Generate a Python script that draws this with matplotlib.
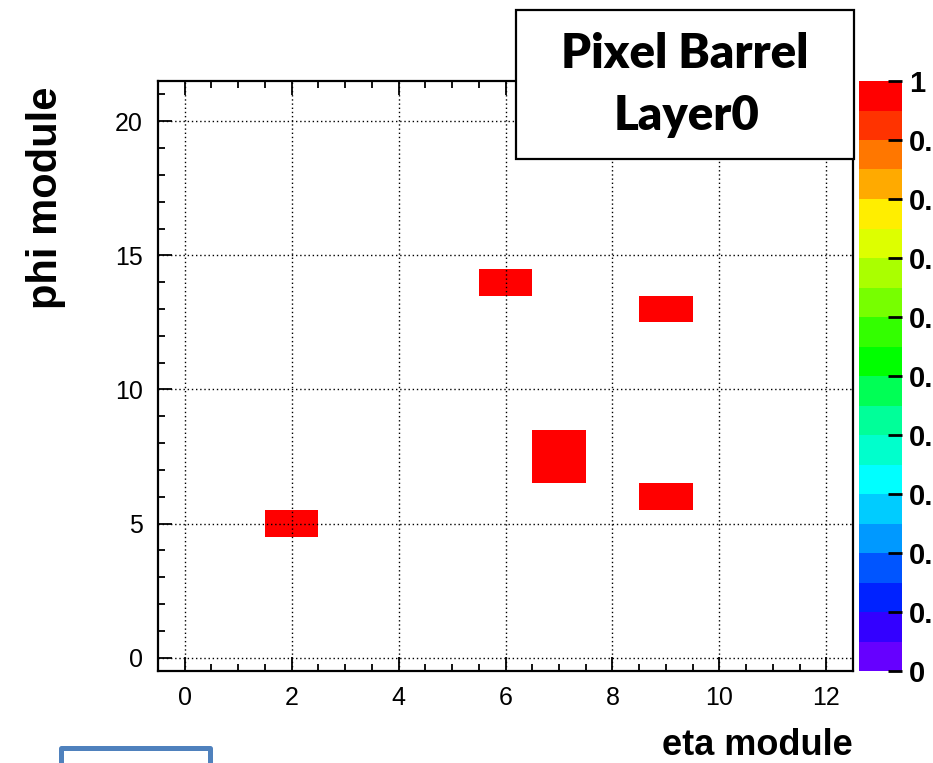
import numpy as np
import matplotlib
matplotlib.use("Agg")
import matplotlib.pyplot as plt
from matplotlib.colors import ListedColormap, Normalize
from matplotlib.patches import Rectangle
from matplotlib.ticker import MultipleLocator, FixedLocator

# ---------------- data ----------------
eta_bins = list(range(13))          # eta module bins 0..12
phi_bins = list(range(22))          # phi module bins 0..21
hit_eta = [2, 6, 9, 9, 7, 7]
hit_phi = [5, 14, 13, 6, 7, 8]
hit_val = [1, 1, 1, 1, 1, 1]

x_ticks = [0, 2, 4, 6, 8, 10, 12]
y_ticks = [0, 5, 10, 15, 20]
cbar_ticks = [0, 0.1, 0.2, 0.3, 0.4, 0.5, 0.6, 0.7, 0.8, 0.9, 1.0]
cbar_labels = ["0", "0.1", "0.2", "0.3", "0.4", "0.5", "0.6", "0.7", "0.8", "0.9", "1"]

palette = ["#6600ff", "#3300ff", "#0022ff", "#0055ff", "#0099ff",
           "#00ccff", "#00ffff", "#00ffcc", "#00ff99", "#00ff55",
           "#00ff00", "#33ff00", "#77ff00", "#aaff00", "#ddff00",
           "#ffee00", "#ffaa00", "#ff7700", "#ff3300", "#ff0000"]

title_lines = ["Pixel Barrel", "Layer0"]
xlabel = "eta module"
ylabel = "phi module"

# ---------------- figure ----------------
W, H = 933, 763
fig = plt.figure(figsize=(W / 100, H / 100), dpi=100)

def fx(x):
    return x / W

def fy(y):
    return 1 - y / H

L, R, T, B = 158, 853, 81, 671
ax = fig.add_axes([fx(L), fy(B), (R - L) / W, (B - T) / H])

Z = np.zeros((len(phi_bins), len(eta_bins)))
for e, p, v in zip(hit_eta, hit_phi, hit_val):
    Z[phi_bins.index(p), eta_bins.index(e)] = v
Zm = np.ma.masked_equal(Z, 0)
x_edges = np.append(np.array(eta_bins) - 0.5, eta_bins[-1] + 0.5)
y_edges = np.append(np.array(phi_bins) - 0.5, phi_bins[-1] + 0.5)

cmap = ListedColormap(palette)
norm = Normalize(vmin=0, vmax=1)
mesh = ax.pcolormesh(x_edges, y_edges, Zm, cmap=cmap, norm=norm, zorder=1)

ax.set_xlim(x_edges[0], x_edges[-1])
ax.set_ylim(y_edges[0], y_edges[-1])
ax.xaxis.set_major_locator(FixedLocator(x_ticks))
ax.yaxis.set_major_locator(FixedLocator(y_ticks))
ax.xaxis.set_minor_locator(MultipleLocator(0.5))
ax.yaxis.set_minor_locator(MultipleLocator(1))
ax.set_axisbelow(False)
ax.grid(True, which="major", linestyle=(0, (1, 2)), color="black", linewidth=1.0)

ax.tick_params(which="both", direction="in", top=True, right=False, width=1.3, color="black")
ax.tick_params(which="major", length=10)
ax.tick_params(which="minor", length=5)
ax.tick_params(axis="x", which="major", pad=11)
ax.tick_params(axis="y", which="major", pad=11)
for lab in ax.get_xticklabels() + ax.get_yticklabels():
    lab.set_fontfamily("Liberation Sans")
    lab.set_fontsize(18)
for s in ax.spines.values():
    s.set_linewidth(1.6)

# colorbar
cax = fig.add_axes([fx(859), fy(671), 43 / W, (671 - 81) / H])
cb = fig.colorbar(mesh, cax=cax, ticks=cbar_ticks)
cb.outline.set_visible(False)
cb.minorticks_off()
cax.set_yticklabels(cbar_labels)
cax.tick_params(direction="in", length=10, width=2, right=True, left=False, pad=5,
                color="black")
for lab in cax.get_yticklabels():
    lab.set_fontfamily("Liberation Sans")
    lab.set_fontweight("bold")
    lab.set_fontsize(21)

# axis titles
fig.text(fx(853), fy(755), xlabel, ha="right", va="baseline",
         family="Liberation Sans", weight="bold", fontsize=26)
fig.text(fx(46), fy(198), ylabel, ha="center", va="center", rotation=90,
         family="Liberation Sans", weight="bold", fontsize=30)

# title box
fig.patches.append(Rectangle((fx(516), fy(159)), (854 - 516) / W, (159 - 10) / H,
                             transform=fig.transFigure, facecolor="white",
                             edgecolor="black", linewidth=1.6, zorder=5))
fig.text(fx(685), fy(68), title_lines[0], ha="center", va="baseline",
         family="Lato", weight="heavy", fontsize=34, zorder=6)
fig.text(fx(687), fy(130), title_lines[1], ha="center", va="baseline",
         family="Lato", weight="heavy", fontsize=34, zorder=6)

# decorative blue box at bottom left
fig.patches.append(Rectangle((fx(61), fy(800)), (210 - 61) / W, (800 - 748) / H,
                             transform=fig.transFigure, facecolor="none",
                             edgecolor="#4f81bd", linewidth=3.6, zorder=5,
                             joinstyle="round"))

fig.savefig("out.png", dpi=100)
